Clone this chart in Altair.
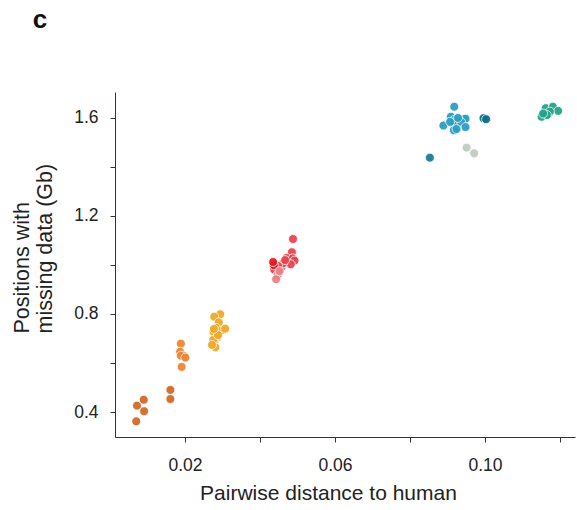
import altair as alt
import pandas as pd

# Pairwise distance to human (x) and positions with missing data in Gb (y), per group
dark_orange_x = [0.0070, 0.0072, 0.0090, 0.0091, 0.0161, 0.0161]
dark_orange_y = [0.362, 0.426, 0.450, 0.403, 0.490, 0.453]

orange_x = [0.0189, 0.0187, 0.0196, 0.0189, 0.0201, 0.0191]
orange_y = [0.679, 0.646, 0.630, 0.630, 0.622, 0.584]

gold_x = [0.0294, 0.0278, 0.0290, 0.0283, 0.0297, 0.0307, 0.0276, 0.0286, 0.0278, 0.0281, 0.0275, 0.0288, 0.0277, 0.0272]
gold_y = [0.799, 0.789, 0.766, 0.744, 0.732, 0.740, 0.727, 0.705, 0.686, 0.664, 0.694, 0.714, 0.739, 0.674]

red_x = [0.0488, 0.0485, 0.0471, 0.0487, 0.0492, 0.0482, 0.0438, 0.0456, 0.0462, 0.0467, 0.0448]
red_y = [1.106, 1.052, 1.029, 1.027, 1.018, 1.003, 0.981, 0.988, 1.007, 1.020, 0.996]

bright_red_x = [0.0437, 0.0435]
bright_red_y = [0.999, 1.012]

pink_x = [0.0447, 0.0443, 0.0452]
pink_y = [0.960, 0.942, 0.975]

blue_x = [0.0918, 0.0909, 0.0918, 0.0889, 0.0916, 0.0942, 0.0948, 0.0936, 0.0948, 0.0917, 0.0924, 0.0907, 0.0928]
blue_y = [1.646, 1.605, 1.592, 1.569, 1.578, 1.595, 1.597, 1.584, 1.563, 1.550, 1.555, 1.584, 1.600]

dark_teal_x = [0.0996, 0.1003]
dark_teal_y = [1.599, 1.595]

grey_green_x = [0.0951, 0.0971]
grey_green_y = [1.479, 1.456]

teal_x = [0.0853]
teal_y = [1.438]

green_x = [0.1151, 0.1162, 0.1181, 0.1195, 0.1169, 0.1173, 0.1165, 0.1155]
green_y = [1.605, 1.640, 1.646, 1.629, 1.616, 1.626, 1.612, 1.618]

groups = ["dark_orange", "orange", "gold", "red", "bright_red", "pink",
          "blue", "dark_teal", "grey_green", "teal", "green"]
colors = ["#d06b2b", "#eb8632", "#f0a928", "#e8464f", "#e31c26", "#ec7f87",
          "#2c9ec3", "#0f6d87", "#bfcdbf", "#1a7f9a", "#23a48a"]
series = [(dark_orange_x, dark_orange_y), (orange_x, orange_y), (gold_x, gold_y),
          (red_x, red_y), (bright_red_x, bright_red_y), (pink_x, pink_y),
          (blue_x, blue_y), (dark_teal_x, dark_teal_y), (grey_green_x, grey_green_y),
          (teal_x, teal_y), (green_x, green_y)]

panel_label = ["c"]

rows = []
for g, (xs, ys) in zip(groups, series):
    for x, y in zip(xs, ys):
        rows.append({"group": g, "x": x, "y": y})
df = pd.DataFrame(rows)

font = "Liberation Sans"

points = alt.Chart(df).mark_circle(
    size=80, opacity=0.95, stroke="white", strokeWidth=0.8
).encode(
    x=alt.X("x:Q", scale=alt.Scale(domain=[0.00133, 0.124], nice=False, zero=False),
            axis=alt.Axis(title="Pairwise distance to human",
                          values=[0.02, 0.04, 0.06, 0.08, 0.10, 0.12],
                          labelExpr="(round(datum.value*100) % 4 == 2) ? format(datum.value, '.2f') : ''",
                          grid=False, tickSize=5, labelPadding=14, titlePadding=9,
                          titleX=213, titleAlign="center",
                          labelFontSize=17.5, titleFontSize=21, titleFontWeight="normal")),
    y=alt.Y("y:Q", scale=alt.Scale(domain=[0.298, 1.706], nice=False, zero=False),
            axis=alt.Axis(title=["Positions with", "missing data (Gb)"],
                          values=[0.4, 0.6, 0.8, 1.0, 1.2, 1.4, 1.6],
                          labelExpr="(round(datum.value*10) % 4 == 0) ? format(datum.value, '.1f') : ''",
                          grid=False, tickSize=5, labelPadding=12,
                          titleX=-82, titleY=241, titleAlign="left", titleAngle=270,
                          titleBaseline="bottom", titleLineHeight=23,
                          labelFontSize=17.5, titleFontSize=21.5, titleFontWeight="normal")),
    color=alt.Color("group:N", scale=alt.Scale(domain=groups, range=colors), legend=None),
)

label = alt.Chart(pd.DataFrame({"t": panel_label})).mark_text(
    font=font, fontSize=26, fontWeight="bold", color="#111",
    align="center", baseline="middle"
).encode(text="t:N", x=alt.value(-75), y=alt.value(-72))

chart = alt.layer(points, label).properties(
    width=460, height=345,
    padding={"left": 115, "top": 92, "right": 2, "bottom": 73},
    autosize=alt.AutoSizeParams(type="none")
).configure_view(stroke=None).configure_axis(
    domainColor="#333", tickColor="#333", labelColor="#222", titleColor="#222",
    labelFont=font, titleFont=font
)

chart.save("out.html", embed_options={"renderer": "svg", "actions": False})
